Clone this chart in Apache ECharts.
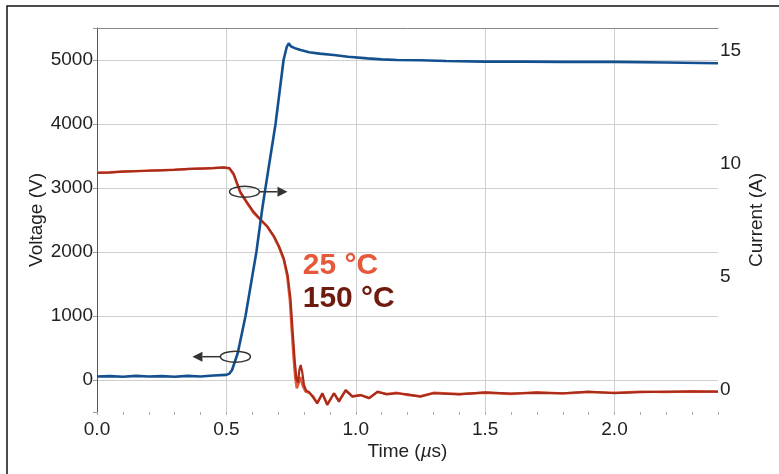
<!DOCTYPE html>
<html><head><meta charset="utf-8">
<script src="https://cdn.jsdelivr.net/npm/echarts@6/dist/echarts.min.js"></script>
<style>html,body{margin:0;padding:0;background:#fff}#c{width:779px;height:474px}</style>
</head><body><div id="c"></div>
<script>
// ---- data ----
const voltageTime = [0,0.05,0.1,0.15,0.2,0.25,0.3,0.35,0.4,0.45, 0.5,0.512,0.522,0.544,0.574,0.616,0.638,0.651,0.69,0.721, 0.733,0.741,0.75,0.765,0.787,0.82,0.86,0.915,0.97,1.045, 1.1,1.16,1.25,1.35,1.5,1.65,1.8,2.0,2.2,2.4];
const voltage = [55,60,50,65,55,60,50,65,55,70, 80,100,156,422,1000,2000,2656,3000,4000,5000, 5200,5260,5210,5185,5156,5120,5100,5078,5050,5026, 5010,5000,4995,4985,4975,4975,4970,4970,4960,4950];

const currentTime25 = [0,0.05,0.1,0.15,0.2,0.25,0.3,0.35,0.4,0.45, 0.49,0.512,0.528,0.554,0.58,0.606,0.632,0.658,0.683,0.703, 0.722,0.735,0.745,0.752,0.759,0.766,0.772,0.779,0.786,0.795, 0.806,0.82,0.835,0.851,0.871,0.89,0.916,0.935,0.961,0.987, 1.019,1.052,1.084,1.12,1.16,1.2,1.25,1.3,1.4,1.5, 1.6,1.7,1.8,1.9,2.0,2.1,2.2,2.3,2.4];
const current25 = [9.6,9.62,9.65,9.66,9.69,9.71,9.73,9.75,9.78,9.8, 9.82,9.78,9.5,8.7,8.24,7.8,7.5,7.2,6.76,6.3, 5.72,5.0,3.96,2.7,1.5,0.5,0.05,0.25,0.55,0.15, -0.1,-0.15,-0.3,-0.6,-0.2,-0.65,-0.18,-0.5,-0.05,-0.3, -0.25,-0.38,-0.12,-0.2,-0.15,-0.25,-0.3,-0.15,-0.2,-0.15, -0.2,-0.12,-0.18,-0.12,-0.15,-0.1,-0.12,-0.08,-0.1];

const currentTime150 = [0,0.05,0.1,0.15,0.2,0.25,0.3,0.35,0.4,0.45, 0.49,0.512,0.528,0.554,0.58,0.606,0.632,0.658,0.683,0.703, 0.722,0.737,0.748,0.756,0.764,0.771,0.777,0.782,0.787,0.793, 0.8,0.808,0.82,0.835,0.851,0.871,0.89,0.916,0.935,0.961, 0.987,1.019,1.052,1.084,1.12,1.16,1.2,1.25,1.3,1.4, 1.5,1.6,1.7,1.8,1.9,2.0,2.1,2.2,2.3,2.4];
const current150 = [9.58,9.6,9.64,9.67,9.68,9.7,9.72,9.76,9.77,9.8, 9.83,9.8,9.55,8.75,8.28,7.85,7.52,7.22,6.8,6.35, 5.8,5.05,4.0,2.6,1.3,0.45,0.3,0.85,1.08,0.78, 0.2,-0.05,-0.12,-0.35,-0.62,-0.17,-0.69,-0.17,-0.54,-0.03, -0.32,-0.25,-0.39,-0.1,-0.22,-0.17,-0.22,-0.32,-0.17,-0.22, -0.13,-0.18,-0.15,-0.17,-0.1,-0.17,-0.12,-0.1,-0.1,-0.1];

const seriesLabels = ['25 °C', '150 °C'];
const axisTitles = ['Voltage (V)', 'Current (A)'];
// annotation anchors in data coordinates [time, value]
const currentMarker = [0.57, 8.75];   // on current curve, arrow to the right axis
const voltageMarker = [0.535, 364];   // on voltage curve, arrow to the left axis
const label25At = [0.795, 5.46];
const label150At = [0.795, 4.0];

// ---- chart ----
function pairs(xs, ys) { return xs.map((x, i) => [x, ys[i]]); }
const FONT = '"Liberation Sans", Arial, sans-serif';
const TXT = '#222';
const GRID = '#cfcfcf';

const chart = echarts.init(document.getElementById('c'), null, {renderer: 'canvas'});
chart.setOption({
  animation: false,
  backgroundColor: '#fff',
  textStyle: {fontFamily: FONT},
  grid: {left: 97, right: 61, top: 28, bottom: 62, containLabel: false, outerBoundsMode: 'none'},
  xAxis: [{
    type: 'value', min: 0, max: 2.4, interval: 0.5,
    name: 'Time ({i|µ}s)', nameLocation: 'middle', nameGap: 30, nameMoveOverlap: false,
    nameTextStyle: {fontSize: 19, color: TXT, fontFamily: FONT, rich: {i: {fontStyle: 'italic', fontSize: 19, color: TXT, fontFamily: FONT}}},
    axisLine: {show: false, onZero: false},
    axisTick: {show: true, length: 3, lineStyle: {color: '#aaa'}},
    minorTick: {show: true, splitNumber: 5, length: 3, lineStyle: {color: '#aaa'}},
    axisLabel: {fontSize: 19, color: TXT, margin: 8, fontFamily: FONT,
      formatter: v => (Math.abs(v * 2 - Math.round(v * 2)) < 1e-6 ? v.toFixed(1) : '')},
    splitLine: {show: true, showMinLine: false, showMaxLine: false, lineStyle: {color: GRID, width: 1}}
  }, {
    type: 'value', position: 'top', min: 0, max: 2.4,
    axisLine: {show: true, onZero: false, lineStyle: {color: '#888', width: 1}},
    axisTick: {show: false}, axisLabel: {show: false}, splitLine: {show: false}
  }],
  yAxis: [{
    type: 'value', min: -500, max: 5500, splitNumber: 6,
    name: axisTitles[0], nameLocation: 'middle', nameRotate: 90, nameGap: 51, nameMoveOverlap: false,
    nameTextStyle: {fontSize: 19, color: TXT, fontFamily: FONT},
    axisLine: {show: true, onZero: false, lineStyle: {color: '#555', width: 1}},
    axisTick: {show: true, length: 4, lineStyle: {color: '#999'}},
    axisLabel: {fontSize: 19, color: TXT, margin: 4, fontFamily: FONT,
      formatter: v => (v % 1000 === 0 ? String(v) : '')},
    splitLine: {show: true, showMinLine: false, showMaxLine: false, lineStyle: {color: GRID, width: 1}}
  }, {
    type: 'value', min: -1, max: 16, splitNumber: 4, position: 'right',
    name: axisTitles[1], nameLocation: 'middle', nameRotate: 90, nameGap: 29, nameMoveOverlap: false,
    nameTextStyle: {fontSize: 19, color: TXT, fontFamily: FONT},
    axisLine: {show: false, onZero: false}, axisTick: {show: false}, splitLine: {show: false},
    axisLabel: {fontSize: 19, color: TXT, margin: 2, fontFamily: FONT,
      formatter: v => (v % 5 === 0 ? String(v) : '')}
  }],
  series: [{
    name: seriesLabels[0], type: 'line', xAxisIndex: 0, yAxisIndex: 1, showSymbol: false, z: 2,
    data: pairs(currentTime25, current25), lineStyle: {color: '#e35a3b', width: 2.4}
  }, {
    name: seriesLabels[1], type: 'line', xAxisIndex: 0, yAxisIndex: 1, showSymbol: false, z: 3,
    data: pairs(currentTime150, current150), lineStyle: {color: '#a92b19', width: 2.2}
  }, {
    name: 'Voltage', type: 'line', xAxisIndex: 0, yAxisIndex: 0, showSymbol: false, z: 4,
    data: pairs(voltageTime, voltage), lineStyle: {color: '#14508f', width: 2.6}
  }]
});

// ---- annotations ----
const pc = chart.convertToPixel({xAxisIndex: 0, yAxisIndex: 1}, currentMarker);
const pv = chart.convertToPixel({xAxisIndex: 0, yAxisIndex: 0}, voltageMarker);
const p25 = chart.convertToPixel({xAxisIndex: 0, yAxisIndex: 1}, label25At);
const p150 = chart.convertToPixel({xAxisIndex: 0, yAxisIndex: 1}, label150At);
const INK = '#333';
function marker(p, dir) {
  const rx = 15, ry = 5.5, len = 43, head = 10;
  const tip = p[0] + dir * len;
  return [
    {type: 'ellipse', shape: {cx: p[0], cy: p[1], rx: rx, ry: ry}, style: {fill: 'none', stroke: INK, lineWidth: 1.5}, z: 100},
    {type: 'line', shape: {x1: p[0] + dir * rx, y1: p[1], x2: tip - dir * head, y2: p[1]}, style: {stroke: INK, lineWidth: 1.5}, z: 100},
    {type: 'polygon', shape: {points: [[tip, p[1]], [tip - dir * head, p[1] - 5], [tip - dir * head, p[1] + 5]]}, style: {fill: INK}, z: 100}
  ];
}
chart.setOption({
  graphic: [
    {type: 'rect', shape: {x: 7, y: 6, width: 900, height: 600}, style: {fill: 'none', stroke: '#111', lineWidth: 1.5}, z: 50},
    ...marker(pc, 1),
    ...marker(pv, -1),
    {type: 'text', x: p25[0], y: p25[1], style: {text: seriesLabels[0], fill: '#e6583a', font: 'bold 30px ' + FONT, textVerticalAlign: 'middle', verticalAlign: 'middle'}, z: 100},
    {type: 'text', x: p150[0], y: p150[1], style: {text: seriesLabels[1], fill: '#6f1a0f', font: 'bold 30px ' + FONT, textVerticalAlign: 'middle', verticalAlign: 'middle'}, z: 100}
  ]
});
</script>
</body></html>
